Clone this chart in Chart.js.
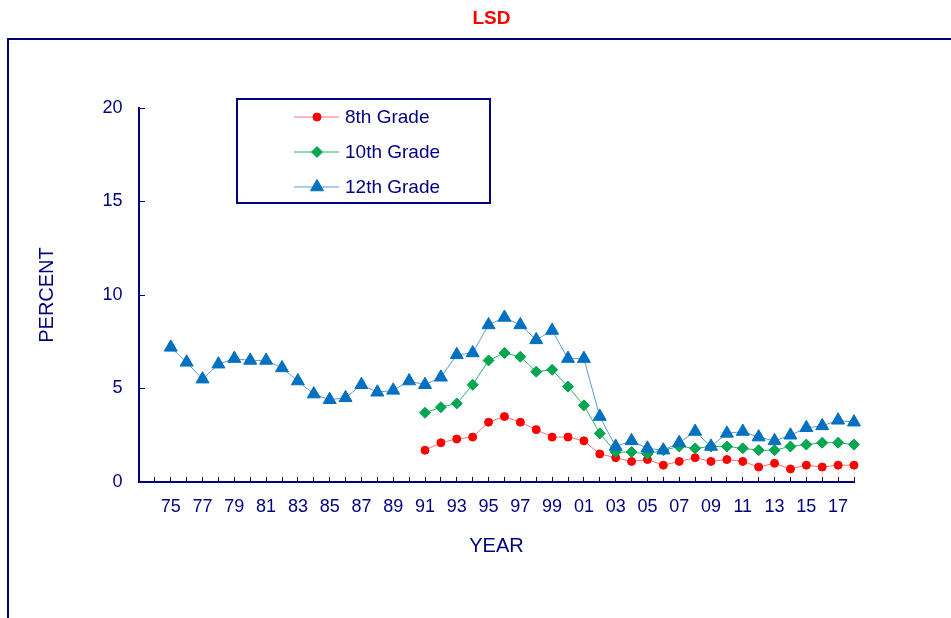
<!DOCTYPE html>
<html>
<head>
<meta charset="utf-8">
<script src="https://cdn.jsdelivr.net/npm/chart.js@4.4.1/dist/chart.umd.min.js"></script>
<style>
html,body{margin:0;padding:0;background:#ffffff;}
#wrap{position:relative;width:951px;height:618px;}
canvas{display:block;}
</style>
</head>
<body>
<div id="wrap"><canvas id="c" width="951" height="618"></canvas></div>
<script>
// ---- data ----
const chartTitle = 'LSD';
const xTitle = 'YEAR';
const yTitle = 'PERCENT';
const seriesNames = ['8th Grade', '10th Grade', '12th Grade'];
const years = [1975,1976,1977,1978,1979,1980,1981,1982,1983,1984,1985,1986,1987,1988,1989,1990,
               1991,1992,1993,1994,1995,1996,1997,1998,1999,2000,2001,2002,2003,2004,2005,2006,
               2007,2008,2009,2010,2011,2012,2013,2014,2015,2016,2017,2018];
const grade8 = [null,null,null,null,null,null,null,null,null,null,null,null,null,null,null,null,
                1.7,2.1,2.3,2.4,3.2,3.5,3.2,2.8,2.4,2.4,2.2,1.5,1.3,1.1,1.2,0.9,
                1.1,1.3,1.1,1.2,1.1,0.8,1.0,0.7,0.9,0.8,0.9,0.9];
const grade10 = [null,null,null,null,null,null,null,null,null,null,null,null,null,null,null,null,
                 3.7,4.0,4.2,5.2,6.5,6.9,6.7,5.9,6.0,5.1,4.1,2.6,1.6,1.6,1.5,1.7,
                 1.9,1.8,1.9,1.9,1.8,1.7,1.7,1.9,2.0,2.1,2.1,2.0];
const grade12 = [7.2,6.4,5.5,6.3,6.6,6.5,6.5,6.1,5.4,4.7,4.4,4.5,5.2,4.8,4.9,5.4,
                 5.2,5.6,6.8,6.9,8.4,8.8,8.4,7.6,8.1,6.6,6.6,3.5,1.9,2.2,1.8,1.7,
                 2.1,2.7,1.9,2.6,2.7,2.4,2.2,2.5,2.9,3.0,3.3,3.2];
const xMin = 1973, xMax = 2018;
const yMin = 0, yMax = 20, yStep = 5;

// ---- styles ----
const NAVY = '#000080';
const FONT = "'Liberation Sans', Arial, Helvetica, sans-serif";

function pts(vals){ return years.map((yr, i) => ({x: yr, y: vals[i]})); }

const frame = {
  id: 'frame',
  beforeDraw(chart){
    const ctx = chart.ctx;
    ctx.save();
    ctx.fillStyle = '#ffffff';
    ctx.fillRect(0, 0, chart.width, chart.height);
    ctx.strokeStyle = NAVY;
    ctx.lineWidth = 2;
    ctx.strokeRect(8, 39, 2000, 2000);
    ctx.restore();
  }
};

function marker(ctx, style, r, x, y){
  ctx.beginPath();
  if (style === 'circle') {
    ctx.arc(x, y, r, 0, Math.PI * 2);
  } else if (style === 'rectRot') {
    ctx.moveTo(x - r, y); ctx.lineTo(x, y - r); ctx.lineTo(x + r, y); ctx.lineTo(x, y + r);
  } else {
    ctx.moveTo(x, y - r);
    ctx.lineTo(x + r * 0.866, y + r / 2);
    ctx.lineTo(x - r * 0.866, y + r / 2);
  }
  ctx.closePath();
  ctx.fill();
  ctx.stroke();
}

const boxLegend = {
  id: 'boxLegend',
  afterDraw(chart){
    const ctx = chart.ctx, a = chart.chartArea;
    const L = a.left + 98, T = a.top - 9, W = 253, H = 104;
    ctx.save();
    ctx.lineWidth = 2;
    ctx.strokeStyle = NAVY;
    ctx.strokeRect(L, T, W, H);
    chart.data.datasets.forEach((ds, i) => {
      const y = T + 18 + i * 35;
      ctx.strokeStyle = ds.borderColor;
      ctx.lineWidth = 1;
      ctx.beginPath(); ctx.moveTo(L + 57, y); ctx.lineTo(L + 102, y); ctx.stroke();
      ctx.fillStyle = ds.pointBackgroundColor;
      ctx.strokeStyle = ds.pointBorderColor;
      marker(ctx, ds.pointStyle, ds.pointRadius, L + 80, y);
      ctx.fillStyle = NAVY;
      ctx.font = '19px ' + FONT;
      ctx.textAlign = 'left';
      ctx.textBaseline = 'middle';
      ctx.fillText(ds.label, L + 108, y + 1);
    });
    ctx.restore();
  }
};

new Chart(document.getElementById('c'), {
  type: 'line',
  data: {
    datasets: [
      { label: seriesNames[0], data: pts(grade8), borderColor: '#FF7070', borderWidth: 1,
        pointStyle: 'circle', pointRadius: 4, pointBackgroundColor: '#FF0000', pointBorderColor: '#FF0000',
        pointBorderWidth: 1, order: 3, spanGaps: false, clip: false },
      { label: seriesNames[1], data: pts(grade10), borderColor: '#2DB36A', borderWidth: 1,
        pointStyle: 'rectRot', pointRadius: 5.5, pointBackgroundColor: '#00A650', pointBorderColor: '#00A650',
        pointBorderWidth: 1, order: 2, spanGaps: false, clip: false },
      { label: seriesNames[2], data: pts(grade12), borderColor: '#5B9BD5', borderWidth: 1,
        pointStyle: 'triangle', pointRadius: 7.5, pointBackgroundColor: '#0070C0', pointBorderColor: '#0070C0',
        pointBorderWidth: 1, order: 1, spanGaps: false, clip: false }
    ]
  },
  options: {
    responsive: false,
    animation: false,
    devicePixelRatio: 1,
    layout: { padding: { left: 32, top: 0, right: 0, bottom: 0 } },
    plugins: {
      legend: { display: false },
      tooltip: { enabled: false },
      title: {
        display: true, text: chartTitle, color: '#FF0000',
        font: { family: FONT, size: 19, weight: 'bold' },
        padding: { top: 7, bottom: 78.2 }
      }
    },
    scales: {
      x: {
        type: 'linear', position: 'bottom', min: xMin, max: xMax,
        afterFit: s => { s.height = 136; },
        grid: { display: true, drawOnChartArea: false, drawTicks: true, tickLength: -5, tickColor: NAVY, tickWidth: 1 },
        border: { display: true, color: NAVY, width: 2 },
        ticks: {
          stepSize: 1, autoSkip: false, maxRotation: 0, minRotation: 0, padding: 19,
          color: NAVY, font: { family: FONT, size: 18 },
          callback: v => (v >= 1975 && v % 2 === 1) ? String(v).slice(2) : ''
        },
        title: { display: true, text: xTitle, color: NAVY, font: { family: FONT, size: 20 },
                 padding: { top: 0, bottom: 60 } }
      },
      y: {
        type: 'linear', position: 'left', min: yMin, max: yMax,
        afterFit: s => { s.width = 107; },
        grid: { display: true, drawOnChartArea: false, drawTicks: true, tickLength: -6, tickColor: NAVY, tickWidth: 1 },
        border: { display: true, color: NAVY, width: 2 },
        ticks: { stepSize: yStep, padding: 22.5, color: NAVY, font: { family: FONT, size: 18 } },
        title: { display: true, text: yTitle, color: NAVY, font: { family: FONT, size: 20 },
                 padding: { top: 3, bottom: 0 } }
      },
      yR: {
        type: 'linear', position: 'right', display: true,
        afterFit: s => { s.width = 97; },
        grid: { display: false }, border: { display: false }, ticks: { display: false }
      }
    }
  },
  plugins: [frame, boxLegend]
});
</script>
</body>
</html>
